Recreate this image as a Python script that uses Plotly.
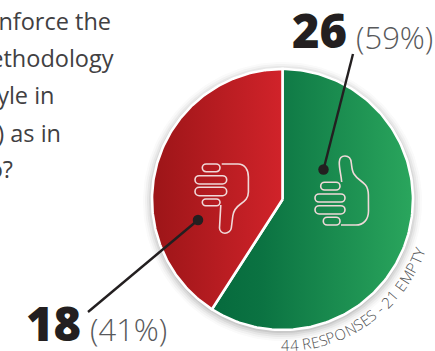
import numpy as np
import plotly.graph_objects as go

# Survey results
categories = ["Yes", "No"]
responses = [26, 18]
shares = ["(59%)", "(41%)"]
fill_scales = [
    [[0, "#066a3d"], [0.25, "#0b7342"], [1, "#2aa65d"]],
    [[0, "#9c1518"], [1, "#d1232a"]],
]
question_lines = ["nforce the", "methodology", "yle in", ") as in", "o?"]
footnote = "44 RESPONSES - 21 EMPTY"

WIDTH, HEIGHT = 435, 351
CX, CY, R = 282.5, 199.5, 130.5
DARK = "#231f20"
GREY = "#58595b"
OUTLINE = "#f0d9d9"
BODY = "Open Sans"


def polar(radius, angle):
    """Clockwise from twelve o'clock, in pixel space with y pointing down."""
    return CX + radius * np.sin(angle), CY - radius * np.cos(angle)


def rounded_bar(x0, x1, y0, y1):
    # Pill outline built from cubic segments
    r = (y1 - y0) / 2
    k = 0.55 * r
    ym = (y0 + y1) / 2
    return (f"M{x0 + r},{y0} L{x1 - r},{y0} "
            f"C{x1 - r + k},{y0} {x1},{ym - k} {x1},{ym} "
            f"C{x1},{ym + k} {x1 - r + k},{y1} {x1 - r},{y1} "
            f"L{x0 + r},{y1} "
            f"C{x0 + r - k},{y1} {x0},{ym + k} {x0},{ym} "
            f"C{x0},{ym - k} {x0 + r - k},{y0} {x0 + r},{y0} Z")


fig = go.Figure()

# Soft drop shadow behind the disc
for grow, alpha in zip([9, 7, 5, 3, 1], [0.025, 0.035, 0.05, 0.07, 0.09]):
    t = np.linspace(0, 2 * np.pi, 181)
    sx, sy = polar(R + grow, t)
    fig.add_trace(go.Scatter(x=sx, y=sy + 2, mode="lines", fill="toself",
                             fillcolor=f"rgba(40,40,40,{alpha})",
                             line=dict(width=0), hoverinfo="skip"))

# Slices, clockwise from twelve o'clock, scaled by the response counts
total = sum(responses)
start = 0.0
for name, value, scale in zip(categories, responses, fill_scales):
    sweep = 2 * np.pi * value / total
    t = np.linspace(start, start + sweep, 160)
    ax, ay = polar(R, t)
    fig.add_trace(go.Scatter(
        x=np.r_[CX, ax, CX], y=np.r_[CY, ay, CY], mode="lines", name=name,
        fill="toself", fillgradient=dict(type="horizontal", colorscale=scale),
        line=dict(color="white", width=2.6), hoverinfo="skip"))
    start += sweep

# Thumb glyphs
shapes = []
thumb_up = ("M341.7,182 C341,174 339,168 339.3,162 C339.5,158 342,156 345,156 "
            "C349,156 351,159 351.3,163 C352,168 352,171 354,174 C357,179 362,181 365.5,185 "
            "C368,188 368.3,190 368.4,195 L368.5,211 C368.5,220 363,225 356,225 L341,225")
thumb_down = ("M221.7,164 L238,164 C245,164 248.4,170 248.4,177 L248.4,192 "
              "C248.4,198 245,201 240,204.5 C235,208 233.5,211 232.8,216 L231.3,228 "
              "C231,231 228,233.2 225,233.2 C222,233.2 219.5,231 219.5,228 L220.8,205")
for path in [thumb_up, thumb_down]:
    shapes.append(dict(type="path", path=path, xref="x", yref="y",
                       line=dict(color=OUTLINE, width=1.6)))
bars = [(320.7, 340, 182.3, 190), (315, 345, 194, 202), (315, 345, 205.7, 214), (323.3, 340, 217.3, 225),
        (202.3, 220, 164, 171.7), (195, 226.7, 175.7, 184), (195, 226.7, 187.3, 195.7), (202.3, 220, 199, 205.7)]
for b in bars:
    shapes.append(dict(type="path", path=rounded_bar(*b), xref="x", yref="y",
                       line=dict(color=OUTLINE, width=1.6)))

# Leader lines ending in a dot inside each slice
for lx, ly in [([353, 323.5], [54, 169.5]), ([88, 198], [312, 220])]:
    fig.add_trace(go.Scatter(x=lx, y=ly, mode="lines", line=dict(color=DARK, width=2.4),
                             hoverinfo="skip"))
    fig.add_trace(go.Scatter(x=[lx[1]], y=[ly[1]], mode="markers",
                             marker=dict(color=DARK, size=10.5, line=dict(width=0)),
                             hoverinfo="skip"))

# Question text, right-aligned on each line's end so the left side runs off the canvas
line_ends = [111, 113.5, 54.5, 61, 13]
line_y = [24, 61, 98.5, 136, 172.5]
fig.add_trace(go.Scatter(x=line_ends, y=line_y, mode="text", text=question_lines,
                         textposition="middle left", cliponaxis=True,
                         textfont=dict(family=BODY, size=23.5, color="#414042"),
                         hoverinfo="skip"))

annotations = []


def label(x, y, text, size, color, weight):
    annotations.append(dict(x=x, y=y, xref="x", yref="y", text=text, showarrow=False,
                            xanchor="left", yanchor="middle",
                            font=dict(family=BODY, size=size, color=color, weight=weight)))


label(289.5, 30, str(responses[0]), 47, DARK, 800)
label(354, 37, shares[0], 31, GREY, 300)
label(24, 323, str(responses[1]), 47, DARK, 800)
label(87.5, 329, shares[1], 31, GREY, 300)

# Footnote set along the rim, one glyph at a time
advance = {" ": .26, "-": .32, "4": .57, "2": .57, "1": .57, "R": .6, "E": .55, "S": .5, "P": .58,
           "O": .78, "N": .74, "M": .89, "T": .55, "Y": .56}
size = 15
widths = [advance[c] * size for c in footnote]
text_r = 146
pos = np.radians(180.5)
for ch, w in zip(footnote, widths):
    a = pos - (w / 2) / text_r
    gx, gy = polar(text_r, a)
    annotations.append(dict(x=gx, y=gy, xref="x", yref="y", text=ch, showarrow=False,
                            textangle=np.degrees(a) - 180, xanchor="center", yanchor="middle",
                            font=dict(family=BODY, size=size, color="#505153", weight=300)))
    pos -= w / text_r

fig.update_layout(
    width=WIDTH, height=HEIGHT, margin=dict(l=0, r=0, t=0, b=0),
    paper_bgcolor="white", plot_bgcolor="white", showlegend=False,
    xaxis=dict(range=[0, WIDTH], visible=False, fixedrange=True),
    yaxis=dict(range=[HEIGHT, 0], visible=False, fixedrange=True),
    shapes=shapes, annotations=annotations,
)
fig.write_html("out.html", config=dict(displayModeBar=False))
